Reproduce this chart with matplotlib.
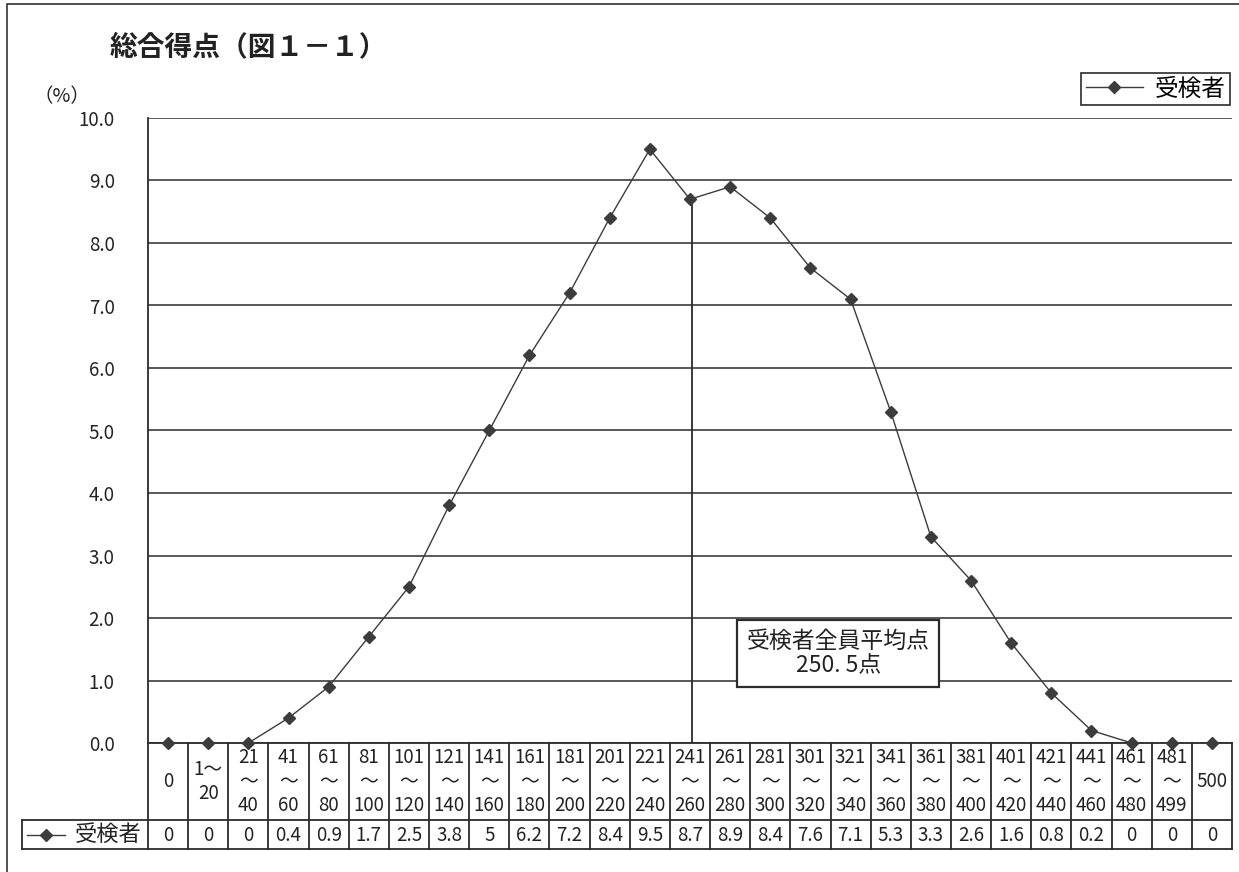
import matplotlib
matplotlib.use("Agg")
import matplotlib.pyplot as plt
from matplotlib import transforms
from matplotlib.lines import Line2D
from matplotlib.patches import Rectangle

# ---- data -------------------------------------------------------------
categories = ["0", "1～\n20"] + [f"{lo}\n～\n{lo + 19}" for lo in range(21, 481, 20)] + ["481\n～\n499", "500"]
bin_low = [0, 1] + list(range(21, 481, 20)) + [481, 500]
bin_high = [0, 20] + [lo + 19 for lo in range(21, 481, 20)] + [499, 500]
series_name = "受検者"
percent = [0, 0, 0, 0.4, 0.9, 1.7, 2.5, 3.8, 5, 6.2, 7.2, 8.4, 9.5, 8.7,
           8.9, 8.4, 7.6, 7.1, 5.3, 3.3, 2.6, 1.6, 0.8, 0.2, 0, 0, 0]
y_ticks = [0, 1, 2, 3, 4, 5, 6, 7, 8, 9, 10]
mean_score = 250.5
title = "総合得点（図１－１）"
unit_label = "（%）"
mean_label = "受検者全員平均点\n250. 5点"

# ---- style --------------------------------------------------------------
W, H = 1239, 872
DPI = 100
JP = ["Noto Sans CJK JP", "DejaVu Sans"]
plt.rcParams["font.family"] = JP
INK = "#2b2b2b"
MARK = "#3c3c3c"
TXT = "#222222"


def fx(px):
    return px / W


def fy(py):
    return 1 - py / H


fig = plt.figure(figsize=(W / DPI, H / DPI), dpi=DPI)
fig.patch.set_facecolor("white")

# outer frame (runs off the right/bottom edge)
fig.add_artist(Rectangle((fx(7), fy(900)), fx(1300), fy(4) - fy(900),
                         transform=fig.transFigure, fill=False,
                         edgecolor="#333333", linewidth=1.2))

left, right, top, bottom = 148, 1232, 118, 743
ax = fig.add_axes([fx(left), fy(bottom), fx(right - left), fy(top) - fy(bottom)])
n = len(categories)
xs = list(range(n))
ax.set_xlim(-0.5, n - 0.5)
ax.set_ylim(0, 10)

for v in y_ticks:
    ax.axhline(v, color=INK, linewidth=1.1, zorder=1)
ax.set_yticks(y_ticks)
ax.set_yticklabels([f"{v:.1f}" for v in y_ticks], fontsize=13.5, color=TXT)
ax.tick_params(axis="y", length=0, pad=24)
ax.set_xticks([])
for s in ["top", "right"]:
    ax.spines[s].set_visible(False)
for s in ["left", "bottom"]:
    ax.spines[s].set_color(INK)
    ax.spines[s].set_linewidth(1.3)

line, = ax.plot(xs, percent, color=MARK, linewidth=1.0, marker="D",
                markersize=6.5, markerfacecolor=MARK, markeredgecolor=MARK,
                zorder=4, clip_on=False, label=series_name)

# mean score drop line, placed inside its score bin
mi = next(i for i in range(n) if bin_low[i] <= mean_score <= bin_high[i])
mx = mi + (mean_score - (bin_low[mi] + bin_high[mi]) / 2) / 20 + 0.05
ax.plot([mx, mx], [0, percent[mi]], color=INK, linewidth=1.3, zorder=3)

# mean annotation box
ax.text(16.69, 1.43, mean_label, ha="center", va="center", fontsize=16.5,
        color=TXT, linespacing=1.12, zorder=6,
        bbox=dict(boxstyle="square,pad=0.42", facecolor="white",
                  edgecolor=INK, linewidth=1.6))

# legend
leg = ax.legend(handles=[line], loc="upper right",
                bbox_to_anchor=(fx(1230), fy(73)), bbox_transform=fig.transFigure,
                borderaxespad=0, fancybox=False, framealpha=1, edgecolor=INK,
                handlelength=2.4, handletextpad=0.5,
                borderpad=0.2, prop={"family": JP, "size": 17})
leg.get_frame().set_linewidth(1.2)

# title and unit
fig.text(fx(248), fy(47), title, ha="center", va="center", fontsize=20,
         fontweight="bold", color=TXT)
fig.text(fx(62), fy(97), unit_label, ha="center", va="center", fontsize=14,
         color=TXT)

# ---- data table beneath the axis -------------------------------------------
bt = transforms.blended_transform_factory(ax.transData, fig.transFigure)
row1_top, row1_bot, row2_bot = bottom, 820, 849
tbl_left = 22
lw = 1.3

for i in range(n + 1):
    xb = i - 0.5
    fig.add_artist(Line2D([xb, xb], [fy(row1_top), fy(row2_bot)], transform=bt,
                          color=INK, linewidth=lw))
for yy in (row1_bot, row2_bot):
    fig.add_artist(Line2D([fx(tbl_left), fx(right)], [fy(yy), fy(yy)],
                          transform=fig.transFigure, color=INK, linewidth=lw))
fig.add_artist(Line2D([fx(tbl_left), fx(tbl_left)], [fy(row1_bot), fy(row2_bot)],
                      transform=fig.transFigure, color=INK, linewidth=lw))

for i, lab in enumerate(categories):
    fig.text(i, fy((row1_top + row1_bot) / 2), lab, transform=bt, ha="center",
             va="center", fontsize=13.5, color=TXT, linespacing=1.2)
    fig.text(i, fy((row1_bot + row2_bot) / 2 + 1), f"{percent[i]:g}", transform=bt,
             ha="center", va="center", fontsize=13.5, color=TXT)

# legend key inside the table row
ky = fy((row1_bot + row2_bot) / 2)
fig.add_artist(Line2D([fx(27), fx(65)], [ky, ky], transform=fig.transFigure,
                      color=MARK, linewidth=1.0))
fig.add_artist(Line2D([fx(46)], [ky], transform=fig.transFigure, marker="D",
                      markersize=6.5, color=MARK, linestyle="none"))
fig.text(fx(108), ky, series_name, ha="center", va="center", fontsize=16,
         color=TXT)

fig.savefig("out.png", dpi=DPI, facecolor="white")
